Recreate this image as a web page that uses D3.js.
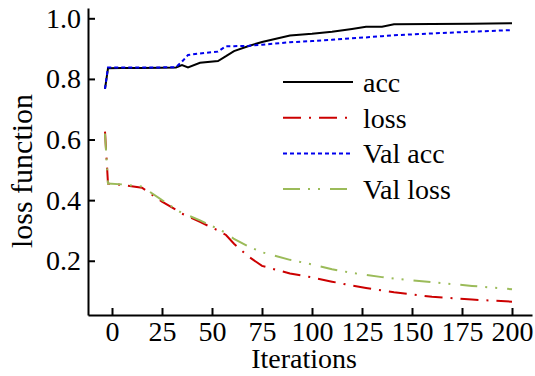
<!DOCTYPE html>
<html>
<head>
<meta charset="utf-8">
<script src="https://cdn.jsdelivr.net/npm/d3@7/dist/d3.min.js"></script>
<style>
  body { margin: 0; background: #fff; }
  svg { display: block; }
  text { font-family: "Liberation Serif", "Times New Roman", Times, Tinos, "Noto Serif", "DejaVu Serif", serif; fill: #000; }
</style>
</head>
<body>
<div id="chart"></div>
<script>
const iterations = [-3.5, -2, 5, 15, 25, 32, 35, 38, 44, 53, 57, 61, 68, 75, 89, 100, 110, 120, 127, 135, 141, 160, 180, 200];
const acc = [0.767, 0.835, 0.836, 0.836, 0.837, 0.838, 0.846, 0.838, 0.853, 0.859, 0.875, 0.892, 0.908, 0.922, 0.943, 0.949, 0.956, 0.965, 0.972, 0.972, 0.980, 0.981, 0.982, 0.984];
const loss = [0.626, 0.455, 0.450, 0.441, 0.395, 0.368, 0.355, 0.347, 0.328, 0.300, 0.285, 0.256, 0.215, 0.183, 0.158, 0.145, 0.131, 0.118, 0.110, 0.102, 0.096, 0.081, 0.072, 0.065];
const valAcc = [0.767, 0.838, 0.838, 0.838, 0.838, 0.839, 0.857, 0.879, 0.884, 0.890, 0.908, 0.908, 0.909, 0.913, 0.921, 0.925, 0.929, 0.934, 0.937, 0.941, 0.944, 0.950, 0.956, 0.961];
const valLoss = [0.620, 0.455, 0.452, 0.445, 0.400, 0.370, 0.357, 0.350, 0.333, 0.305, 0.292, 0.272, 0.248, 0.228, 0.203, 0.188, 0.172, 0.160, 0.153, 0.146, 0.141, 0.129, 0.117, 0.106];

const xTicks = [0, 25, 50, 75, 100, 125, 150, 175, 200];
const yTicks = [0.2, 0.4, 0.6, 0.8, 1.0];

const seriesNames = ['acc', 'loss', 'Val acc', 'Val loss'];
const seriesColors = ['#000000', '#cc0000', '#0000ee', '#9bbb59'];
const seriesDash = [null, '18,8,2,8', '4,3', '17,8,2,8,2,10'];
const seriesValues = [acc, loss, valAcc, valLoss];

const FONT = '"Liberation Serif", "Times New Roman", Times, Tinos, "Noto Serif", "DejaVu Serif", serif';

const width = 535, height = 376;
const margin = { top: 8, right: 3, bottom: 61, left: 88 };
const innerW = width - margin.left - margin.right;
const innerH = height - margin.top - margin.bottom;

const svg = d3.select('#chart').append('svg')
  .attr('width', width)
  .attr('height', height);

const g = svg.append('g').attr('transform', `translate(${margin.left},${margin.top})`);

const x = d3.scaleLinear().domain([-12, 210]).range([0, innerW]);
const y = d3.scaleLinear().domain([0.021, 1.034]).range([innerH, 0]);

// axes: ticks point inward, only left and bottom spines
const xAxis = g.append('g')
  .attr('transform', `translate(0,${innerH})`)
  .call(d3.axisBottom(x).tickValues(xTicks).tickSize(-7).tickSizeOuter(0).tickPadding(6).tickFormat(d3.format('d')));
const yAxis = g.append('g')
  .call(d3.axisLeft(y).tickValues(yTicks).tickSize(-7).tickSizeOuter(0).tickPadding(7).tickFormat(d3.format('.1f')));

[xAxis, yAxis].forEach(ax => {
  ax.attr('font-family', FONT).attr('font-size', 28);
  ax.select('.domain').attr('stroke', '#000').attr('stroke-width', 2);
  ax.selectAll('.tick line').attr('stroke', '#000').attr('stroke-width', 2);
  ax.selectAll('.tick text').attr('fill', '#000').style('font-family', FONT);
});
xAxis.selectAll('.tick text').attr('dy', '0.71em');

const line = d3.line()
  .x((d, i) => x(iterations[i]))
  .y(d => y(d));

seriesValues.forEach((vals, k) => {
  g.append('path')
    .datum(vals)
    .attr('fill', 'none')
    .attr('stroke', seriesColors[k])
    .attr('stroke-width', 2)
    .attr('stroke-dasharray', seriesDash[k])
    .attr('d', line);
});

// legend
const legend = svg.append('g').attr('transform', 'translate(283,82)');
seriesNames.forEach((name, k) => {
  const row = legend.append('g').attr('transform', `translate(0,${k * 35.7})`);
  row.append('line')
    .attr('x1', 0).attr('x2', 70)
    .attr('stroke', seriesColors[k])
    .attr('stroke-width', 2)
    .attr('stroke-dasharray', seriesDash[k]);
  row.append('text')
    .attr('x', 80).attr('y', 10)
    .style('font-size', '28px')
    .text(name);
});

svg.append('text')
  .attr('x', 304)
  .attr('y', 368)
  .attr('text-anchor', 'middle')
  .style('font-size', '28px')
  .text('Iterations');

svg.append('text')
  .attr('transform', `translate(32,171) rotate(-90)`)
  .attr('text-anchor', 'middle')
  .style('font-size', '30px')
  .text('loss function');
</script>
</body>
</html>
